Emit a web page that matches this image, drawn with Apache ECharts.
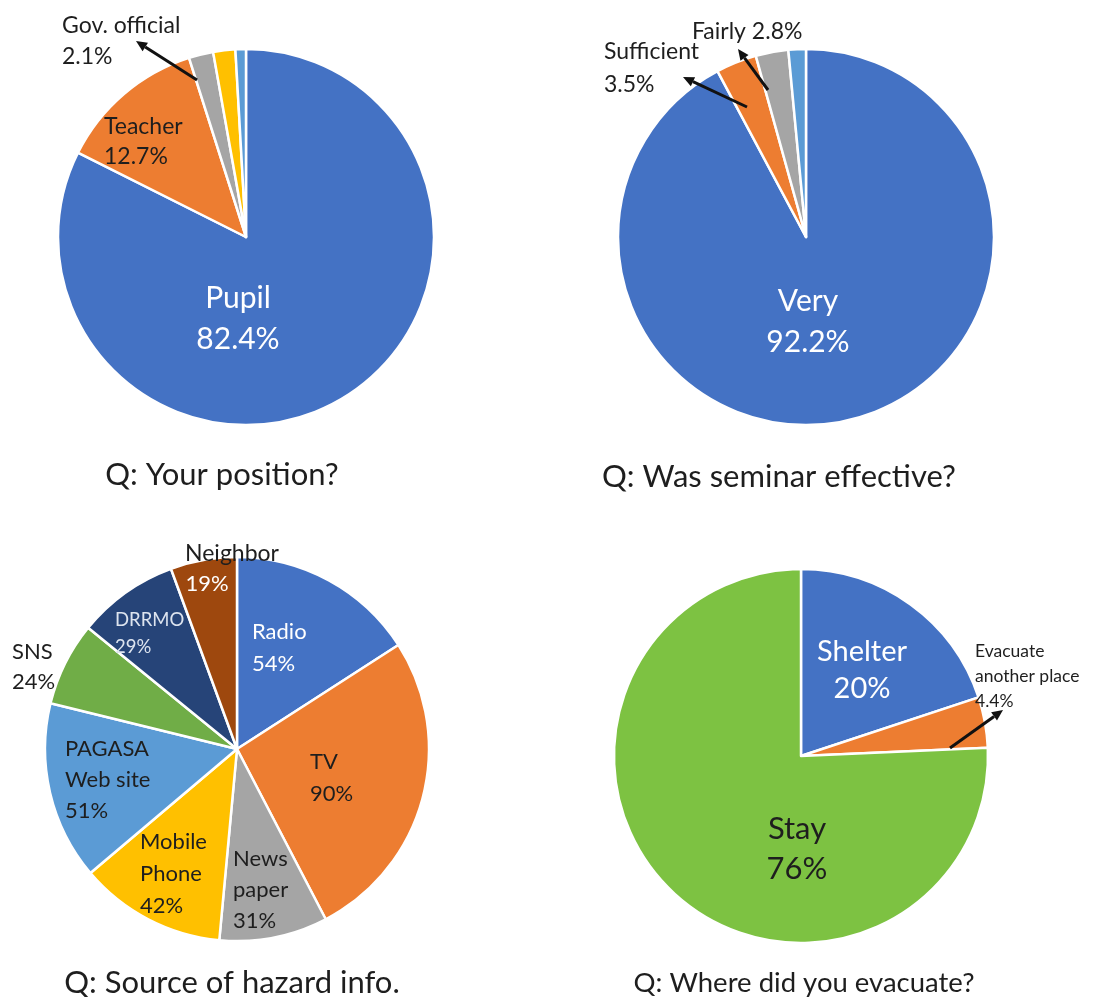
<!DOCTYPE html>
<html>
<head>
<meta charset="utf-8">
<script src="https://cdn.jsdelivr.net/npm/echarts@6/dist/echarts.min.js"></script>
<style>
  html, body { margin: 0; padding: 0; background: #fff; }
  #chart { width: 1097px; height: 997px; }
</style>
</head>
<body>
<div id="chart"></div>
<script>
// Survey results: four pie charts
const positionNames = ['Pupil', 'Teacher', 'Gov. official', 'Other', 'No answer'];
const positionValues = [82.4, 12.7, 2.1, 1.9, 0.9];

const effectNames = ['Very', 'Sufficient', 'Fairly', 'Not much'];
const effectValues = [92.2, 3.5, 2.8, 1.5];

const sourceNames = ['Radio', 'TV', 'News paper', 'Mobile Phone', 'PAGASA Web site', 'SNS', 'DRRMO', 'Neighbor'];
const sourceValues = [54, 90, 31, 42, 51, 24, 29, 19];

const evacNames = ['Shelter', 'Evacuate another place', 'Stay'];
const evacValues = [20, 4.4, 76];

const titles = ['Q: Your position?', 'Q: Was seminar effective?', 'Q: Source of hazard info.', 'Q: Where did you evacuate?'];

const FONT = 'Lato, "Open Sans", sans-serif';
const BLUE = '#4472C4', ORANGE = '#ED7D31', GRAY = '#A5A5A5', GOLD = '#FFC000',
      LBLUE = '#5B9BD5', GREEN = '#70AD47', NAVY = '#264478', BROWN = '#9E480E', LIME = '#7DC242';
const INK = '#1e1e1e';

function pct(v) { return v.toFixed(1) + '%'; }

function pieSeries(names, values, colors, center, radius) {
  return {
    type: 'pie',
    center: center,
    radius: radius,
    startAngle: 90,
    clockwise: true,
    silent: true,
    z: 1,
    label: { show: false },
    labelLine: { show: false },
    itemStyle: { borderColor: '#fff', borderWidth: 2.5 },
    data: names.map((n, i) => ({ name: n, value: values[i], itemStyle: { color: colors[i] } }))
  };
}

// text block placed by the top of its first line's capitals
function txt(x, capTop, text, size, lh, color, align) {
  const y = capTop - ((lh - size) / 2 + 0.11 * size);
  return {
    type: 'text', x: x, y: y, silent: true, z: 100,
    style: {
      text: text, fill: color || INK, font: size + 'px ' + FONT,
      textAlign: align || 'center', textVerticalAlign: 'top', lineHeight: lh
    }
  };
}

// arrow from (x1,y1) pointing to (x2,y2)
function arrow(x1, y1, x2, y2) {
  const a = Math.atan2(y2 - y1, x2 - x1);
  const L = 11, W = 5;
  const bx = x2 - L * Math.cos(a), by = y2 - L * Math.sin(a);
  const px = -Math.sin(a) * W, py = Math.cos(a) * W;
  return [
    { type: 'line', silent: true, z: 100, shape: { x1: x1, y1: y1, x2: bx, y2: by },
      style: { stroke: '#111', lineWidth: 3 } },
    { type: 'polygon', silent: true, z: 100,
      shape: { points: [[x2, y2], [bx + px, by + py], [bx - px, by - py]] },
      style: { fill: '#111' } }
  ];
}

const graphics = [
  // Your position
  txt(238, 287, positionNames[0] + '\n' + pct(positionValues[0]), 30, 41, '#fff'),
  txt(104, 118, positionNames[1] + '\n' + pct(positionValues[1]), 23, 30, INK, 'left'),
  txt(62, 17, positionNames[2] + '\n' + pct(positionValues[2]), 23, 31, INK, 'left'),
  ...arrow(197, 80, 136, 41),
  // Seminar effectiveness
  txt(808, 290, effectNames[0] + '\n' + pct(effectValues[0]), 30, 41, '#fff'),
  txt(604, 43, effectNames[1] + '\n' + pct(effectValues[1]), 23, 33, INK, 'left'),
  txt(692, 23, effectNames[2] + ' ' + pct(effectValues[2]), 23, 30, INK, 'left'),
  ...arrow(747, 107, 683, 77),
  ...arrow(768, 90, 738, 49),
  // Source of hazard info
  txt(232, 545, sourceNames[7], 23, 30, INK),
  txt(207, 575, sourceValues[7] + '%', 22, 30, '#fff'),
  txt(252, 623, sourceNames[0] + '\n' + sourceValues[0] + '%', 22, 32, '#fff', 'left'),
  txt(310, 753, sourceNames[1] + '\n' + sourceValues[1] + '%', 22, 32, INK, 'left'),
  txt(233, 850, 'News\npaper\n' + sourceValues[2] + '%', 22, 31, INK, 'left'),
  txt(140, 833, 'Mobile\nPhone\n' + sourceValues[3] + '%', 22, 32, INK, 'left'),
  txt(65, 740, 'PAGASA\nWeb site\n' + sourceValues[4] + '%', 22, 31, INK, 'left'),
  txt(12, 643, sourceNames[5] + '\n' + sourceValues[5] + '%', 22, 30, INK, 'left'),
  txt(115, 613, sourceNames[6] + '\n' + sourceValues[6] + '%', 18.5, 27, '#dde4ef', 'left'),
  // Where did you evacuate
  txt(862, 640, evacNames[0] + '\n' + evacValues[0] + '%', 29, 37, '#fff'),
  txt(975, 645, 'Evacuate\nanother place\n' + evacValues[1] + '%', 17.5, 25, INK, 'left'),
  ...arrow(950, 748, 1003, 710),
  txt(797, 817, evacNames[2] + '\n' + evacValues[2] + '%', 31, 40, INK),
  // question captions
  txt(222, 463, titles[0], 31, 36, INK),
  txt(779, 465, titles[1], 31, 36, INK),
  txt(232, 971, titles[2], 31, 36, INK),
  txt(804, 972, titles[3], 27.5, 32, INK)
];

const chart = echarts.init(document.getElementById('chart'), null, { renderer: 'canvas' });
chart.setOption({
  animation: false,
  backgroundColor: '#fff',
  series: [
    pieSeries(positionNames, positionValues, [BLUE, ORANGE, GRAY, GOLD, LBLUE], [246, 237], 188),
    pieSeries(effectNames, effectValues, [BLUE, ORANGE, GRAY, LBLUE], [806, 237], 188),
    pieSeries(sourceNames, sourceValues, [BLUE, ORANGE, GRAY, GOLD, LBLUE, GREEN, NAVY, BROWN], [237, 749], 192),
    pieSeries(evacNames, evacValues, [BLUE, ORANGE, LIME], [801, 756], 187)
  ],
  graphic: graphics
});
</script>
</body>
</html>
